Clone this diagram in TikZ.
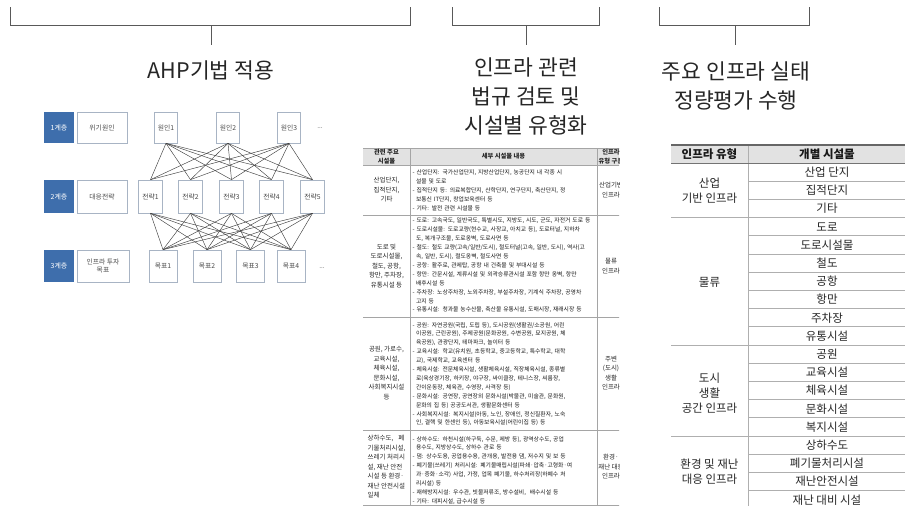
\documentclass[tikz,border=0pt]{standalone}
\usepackage{fontspec}
\setmainfont{Noto Sans CJK KR}
\definecolor{ahpblue}{RGB}{62,110,172}
\definecolor{ahpline}{RGB}{168,180,196}
\definecolor{ahptxt}{RGB}{75,75,75}
\definecolor{tline}{RGB}{165,165,165}
\definecolor{thead}{RGB}{226,226,226}
\definecolor{rline}{RGB}{175,175,175}
\newlength\colw \setlength\colw{183pt}
\newlength\hgind \setlength\hgind{3.3pt}
\newcommand\Lj[1]{\makebox[\colw][s]{- #1}}
\newcommand\Ln[1]{- #1}
\newcommand\Cj[1]{\hspace*{\hgind}\makebox[\dimexpr\colw-\hgind\relax][s]{#1}}
\newcommand\Cn[1]{\hspace*{\hgind}#1}
\begin{document}
\begin{tikzpicture}[x=1pt,y=-1pt,
  brk/.style={draw=black!65, line width=0.8pt},
  ttl/.style={font=\fontsize{21.5}{29}\selectfont, text=black!85, align=center, inner sep=0pt},
  lvl/.style={fill=ahpblue, text=white, minimum width=30pt, font=\fontsize{7}{8}\selectfont, inner sep=0pt},
  lbl/.style={draw=ahpline, fill=white, line width=0.7pt, font=\fontsize{6.8}{8.5}\selectfont, text=ahptxt, align=center, inner sep=0pt},
  edg/.style={draw=black!75, line width=0.45pt},
  cellb/.style={anchor=north west, text width=\colw, align=left, inner sep=0pt, font=\fontsize{5.8}{8.9}\selectfont, text=black!90},
  cellc/.style={align=center, inner sep=0pt, font=\fontsize{6.5}{9.5}\selectfont, text=black!85},
  hdc/.style={align=center, inner sep=0pt, font=\fontsize{6.3}{8.5}\selectfont\bfseries, text=black!85},
  rt/.style={font=\fontsize{11.5}{15}\selectfont, text=black!85, inner sep=0pt, align=center},
  rth/.style={font=\fontsize{11.5}{15}\selectfont\bfseries, text=black!90, inner sep=0pt}
]
\useasboundingbox (0,0) rectangle (905,506);
\fill[white] (0,0) rectangle (905,506);

% ---------- brackets ----------
\coordinate (b1a) at (10,7);   \coordinate (b1b) at (10,25);
\coordinate (b1c) at (410,25); \coordinate (b1d) at (410,7);
\coordinate (b1m) at (211,25); \coordinate (b1t) at (211,45);
\draw[brk] (b1a) -- (b1b) -- (b1c) -- (b1d);
\draw[brk] (b1m) -- (b1t);
\coordinate (b2a) at (452,7);   \coordinate (b2b) at (452,25);
\coordinate (b2c) at (599,25);  \coordinate (b2d) at (599,7);
\coordinate (b2m) at (526,25);  \coordinate (b2t) at (526,45);
\draw[brk] (b2a) -- (b2b) -- (b2c) -- (b2d);
\draw[brk] (b2m) -- (b2t);
\coordinate (b3a) at (659,7);   \coordinate (b3b) at (659,25);
\coordinate (b3c) at (809,25);  \coordinate (b3d) at (809,7);
\coordinate (b3m) at (735,25);  \coordinate (b3t) at (735,45);
\draw[brk] (b3a) -- (b3b) -- (b3c) -- (b3d);
\draw[brk] (b3m) -- (b3t);

% ---------- titles ----------
\node[ttl] (t1) at (211,70) {AHP기법 적용};
\node[ttl] (t2) at (526,96) {인프라 관련\\법규 검토 및\\시설별 유형화};
\node[ttl] (t3) at (736,86) {주요 인프라 실태\\정량평가 수행};

% ---------- AHP hierarchy ----------
\node[lvl, minimum height=31pt] (l1) at (59,127.5) {1계층};
\node[lbl, minimum width=50pt, minimum height=31pt] (c0) at (102,127.5) {위기원인};
\node[lbl, minimum width=23pt, minimum height=31pt] (c1) at (166,127.5) {원인1};
\node[lbl, minimum width=23pt, minimum height=31pt] (c2) at (228,127.5) {원인2};
\node[lbl, minimum width=23pt, minimum height=31pt] (c3) at (289,127.5) {원인3};
\node[font=\fontsize{6.5}{8}\selectfont, text=ahptxt, inner sep=0pt] (d1) at (320,128) {...};

\node[lvl, minimum height=33pt] (l2) at (59,196.5) {2계층};
\node[lbl, minimum width=50pt, minimum height=33pt] (s0) at (102,196.5) {대응전략};
\node[lbl, minimum width=24pt, minimum height=33pt] (s1) at (150.5,196.5) {전략1};
\node[lbl, minimum width=24pt, minimum height=33pt] (s2) at (190.5,196.5) {전략2};
\node[lbl, minimum width=24pt, minimum height=33pt] (s3) at (231.5,196.5) {전략3};
\node[lbl, minimum width=24pt, minimum height=33pt] (s4) at (271.5,196.5) {전략4};
\node[lbl, minimum width=24pt, minimum height=33pt] (s5) at (312.5,196.5) {전략5};

\node[lvl, minimum height=32pt] (l3) at (59,266) {3계층};
\node[lbl, minimum width=52pt, minimum height=32pt] (g0) at (103,266) {인프라 투자\\목표};
\node[lbl, minimum width=28pt, minimum height=32pt] (g1) at (163,266) {목표1};
\node[lbl, minimum width=28pt, minimum height=32pt] (g2) at (207,266) {목표2};
\node[lbl, minimum width=28pt, minimum height=32pt] (g3) at (250.5,266) {목표3};
\node[lbl, minimum width=28pt, minimum height=32pt] (g4) at (291,266) {목표4};
\node[font=\fontsize{6.5}{8}\selectfont, text=ahptxt, inner sep=0pt] (d3) at (322,268) {...};

\foreach \i in {1,2,3} \foreach \j in {1,...,5} \draw[edg] (c\i.south) -- (s\j.north);
\foreach \i in {1,...,5} \foreach \j in {1,...,4} \draw[edg] (s\i.south) -- (g\j.north);

% ---------- middle table ----------
\begin{scope}
\clip (360,140) rectangle (619,506);
\fill[thead] (363,148) rectangle (640,165);
\foreach \yy in {148,165,215,317,430,505} \draw[tline, line width=0.6pt] (363,\yy) -- (640,\yy);
\draw[tline, line width=0.6pt] (410,148) -- (410,505);
\draw[tline, line width=0.6pt] (597,148) -- (597,505);

\node[hdc] (h1) at (386.5,156.5) {관련 주요\\시설물};
\node[hdc] (h2) at (503.5,156.5) {세부 시설물 내용};
\node[hdc] (h3) at (611,156.5) {인프라\\유형 구분};

\node[cellc] (a1) at (386.5,190) {산업단지,\\집적단지,\\기타};
\node[cellc] (a2) at (386.5,266) {도로 및\\도로시설물,\\철도, 공항,\\항만, 주차장,\\유통시설 등};
\node[cellc] (a3) at (386.5,373) {공원, 가로수,\\교육시설,\\체육시설,\\문화시설,\\사회복지시설\\등};
\node[cellc, align=left] (a4) at (386.5,467) {상하수도,\hspace{5pt}폐\\기물처리시설,\\쓰레기 처리시\\설, 재난 안전\\시설 등 환경·\\재난 안전시설\\일체};

\node[cellc] (c31) at (611,190) {산업기반\\인프라};
\node[cellc] (c32) at (611,266) {물류\\인프라};
\node[cellc] (c33) at (611,373) {주변\\(도시)\\생활\\인프라};
\node[cellc] (c34) at (611,467) {환경·\\재난 대응\\인프라};

\node[cellb] (r1) at (412.5,170) {%
\Lj{산업단지: 국가산업단지, 지방산업단지, 농공단지 내 각종 시}\\
\Cn{설물 및 도로}\\
\Lj{집적단지 등: 의료복합단지, 산학단지, 연구단지, 축산단지, 정}\\
\Cn{보통신 IT단지, 창업보육센터 등}\\
\Ln{기타: 발전 관련 시설물 등}};

\node[cellb] (r2) at (412.5,218) {%
\Lj{도로: 고속국도, 일반국도, 특별시도, 지방도, 시도, 군도, 자전거 도로 등}\\
\Lj{도로시설물: 도로교량(현수교, 사장교, 아치교 등), 도로터널, 지하차}\\
\Cn{도, 복개구조물, 도로옹벽, 도로사면 등}\\
\Lj{철도: 철도 교량(고속/일반/도시), 철도터널(고속, 일반, 도시), 역사(고}\\
\Cn{속, 일반, 도시), 철도옹벽, 철도사면 등}\\
\Ln{공항: 활주로, 관제탑, 공항 내 건축물 및 부대시설 등}\\
\Lj{항만: 간문시설, 계류시설 및 외곽승류관시설 포함 항만 옹벽, 항만}\\
\Cn{배후시설 등}\\
\Lj{주차장: 노상주차장, 노외주차장, 부설주차장, 기계식 주차장, 공영차}\\
\Cn{고지 등}\\
\Lj{유통시설: 청과물 농수산물, 축산물 유통시설, 도매시장, 재래시장 등}};

\node[cellb] (r3) at (412.5,322) {%
\Lj{공원: 자연공원(국립, 도립 등), 도시공원(생활권/소공원, 어린}\\
\Cj{이공원, 근린공원), 주제공원(문화공원, 수변공원, 묘지공원, 체}\\
\Cn{육공원), 관광단지, 테마파크, 놀이터 등}\\
\Lj{교육시설: 학교(유치원, 초등학교, 중고등학교, 특수학교, 대학}\\
\Cn{교), 국제학교, 교육센터 등}\\
\Lj{체육시설: 전문체육시설, 생활체육시설, 직장체육시설, 종류별}\\
\Cj{로(육상경기장, 하키장, 야구장, 싸이클장, 테니스장, 씨름장,}\\
\Cn{간이운동장, 체육관, 수영장, 사격장 등)}\\
\Lj{문화시설: 공연장, 공연장외 문화시설(박물관, 미술관, 문화원,}\\
\Cn{문화의 집 등) 공공도서관, 생활문화센터 등}\\
\Lj{사회복지시설: 복지시설(아동, 노인, 장애인, 정신질환자, 노숙}\\
\Cn{인, 결핵 및 한센인 등), 아동보육시설(어린이집 등) 등}};

\node[cellb] (r4) at (412.5,436) {%
\Lj{상하수도: 하천시설(하구둑, 수문, 제방 등), 광역상수도, 공업}\\
\Cn{용수도, 지방상수도, 상하수 관로 등}\\
\Lj{댐: 상수도용, 공업용수용, 관개용, 발전용 댐, 저수지 및 보 등}\\
\Lj{폐기물(쓰레기) 처리시설: 폐기물매립시설(파쇄·압축·고형화·여}\\
\Cj{과·증화·소각) 사업, 가정, 업목 폐기물, 하수처리장(하폐수 처}\\
\Cn{리시설) 등}\\
\Ln{재해방지시설: 우수관, 빗물저류조, 방수설비,\ \ 배수시설 등}\\
\Ln{기타: 대피시설, 급수시설 등}};
\end{scope}

% ---------- right table ----------
\fill[thead] (671,145) rectangle (905,163);
\foreach \i in {1,2,4,5,6,7,8,9,11,12,13,14,16,17,18}
  \draw[rline, line width=0.8pt] (748,{163+18.2*\i}) -- (905,{163+18.2*\i});
\foreach \i in {3,10,15}
  \draw[rline, line width=0.8pt] (671,{163+18.2*\i}) -- (905,{163+18.2*\i});
\draw[rline, line width=0.8pt] (748,145) -- (748,506);
\draw[black!60, line width=1.3pt] (671,145) -- (905,145);
\draw[black!55, line width=0.9pt] (671,163) -- (905,163);

\node[rth] (rh1) at (709.5,154.5) {인프라 유형};
\node[rth] (rh2) at (827,154.5) {개별 시설물};

\node[rt] (p1) at (709.5,191) {산업\\기반 인프라};
\node[rt] (p2) at (709.5,282) {물류};
\node[rt] (p3) at (709.5,393) {도시\\생활\\공간 인프라};
\node[rt] (p4) at (709.5,472) {환경 및 재난\\대응 인프라};

\foreach \t [count=\k from 0] in {산업 단지,집적단지,기타,도로,도로시설물,철도,공항,항만,주차장,유통시설,공원,교육시설,체육시설,문화시설,복지시설,상하수도,폐기물처리시설,재난안전시설,재난 대비 시설}
  \node[rt] (q\k) at (827,{163+18.2*(\k+0.5)}) {\t};
\end{tikzpicture}
\end{document}
